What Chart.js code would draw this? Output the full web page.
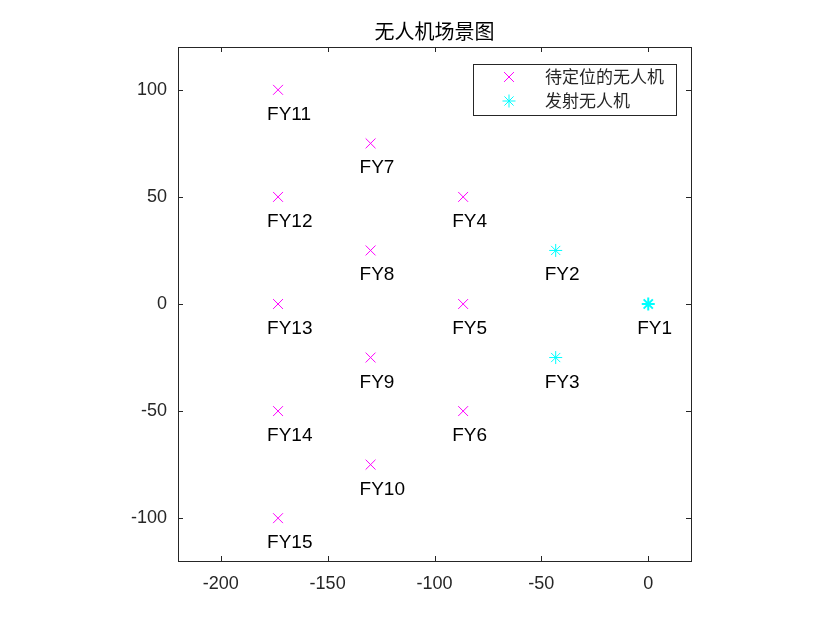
<!DOCTYPE html>
<html>
<head>
<meta charset="utf-8">
<script src="https://cdn.jsdelivr.net/npm/chart.js@4"></script>
<style>
  html, body { margin: 0; padding: 0; background: #fff; }
  #wrap { width: 840px; height: 630px; }
</style>
</head>
<body>
<div id="wrap"><canvas id="scene" width="840" height="630"></canvas></div>
<script>
// 无人机编号与坐标
const names = ['FY1', 'FY2', 'FY3', 'FY4', 'FY5', 'FY6', 'FY7', 'FY8', 'FY9', 'FY10', 'FY11', 'FY12', 'FY13', 'FY14', 'FY15'];
const posX = [0, -43.3, -43.3, -86.6, -86.6, -86.6, -129.9, -129.9, -129.9, -129.9, -173.2, -173.2, -173.2, -173.2, -173.2];
const posY = [0, 25, -25, 50, 0, -50, 75, 25, -25, -75, 100, 50, 0, -50, -100];
const senderCount = 3; // 前三架为发射无人机

const xTicks = [-200, -150, -100, -50, 0];
const yTicks = [-100, -50, 0, 50, 100];
const xRange = [-220, 20];
const yRange = [-120, 120];

const titleText = '无人机场景图';
const legendLabels = ['待定位的无人机', '发射无人机'];

const latin = "'Liberation Sans', Arial, sans-serif";
const cjk = "'Noto Sans CJK SC', sans-serif";

const pts = names.map((n, i) => ({ x: posX[i], y: posY[i] }));

// 标注、边框、刻度、标题、图例
const decor = {
    id: 'decor',
    afterDatasetsDraw(chart) {
        const ctx = chart.ctx;
        const a = chart.chartArea;
        const sx = chart.scales.x, sy = chart.scales.y;

        // 点的标签
        ctx.save();
        ctx.fillStyle = '#000';
        ctx.font = '19px ' + latin;
        ctx.textAlign = 'left';
        ctx.textBaseline = 'alphabetic';
        names.forEach((n, i) => {
            ctx.fillText(n, sx.getPixelForValue(posX[i]) - 11, sy.getPixelForValue(posY[i]) + 30);
        });
        ctx.restore();

        // 边框和向内刻度
        ctx.save();
        ctx.strokeStyle = '#262626';
        ctx.lineWidth = 1;
        ctx.strokeRect(Math.round(a.left) + 0.5, Math.round(a.top) + 0.5, Math.round(a.right - a.left), Math.round(a.bottom - a.top));
        ctx.beginPath();
        xTicks.forEach(v => {
            const px = Math.round(sx.getPixelForValue(v)) + 0.5;
            ctx.moveTo(px, a.bottom); ctx.lineTo(px, a.bottom - 5);
            ctx.moveTo(px, a.top); ctx.lineTo(px, a.top + 5);
        });
        yTicks.forEach(v => {
            const py = Math.round(sy.getPixelForValue(v)) + 0.5;
            ctx.moveTo(a.left, py); ctx.lineTo(a.left + 5, py);
            ctx.moveTo(a.right, py); ctx.lineTo(a.right - 5, py);
        });
        ctx.stroke();
        ctx.restore();

        // 标题
        ctx.save();
        ctx.fillStyle = '#000';
        ctx.font = '20px ' + cjk;
        ctx.textAlign = 'center';
        ctx.textBaseline = 'middle';
        ctx.fillText(titleText, (a.left + a.right) / 2, 31);
        ctx.restore();

        // 图例
        ctx.save();
        ctx.fillStyle = '#fff';
        ctx.fillRect(473.5, 64.5, 203, 51);
        ctx.strokeStyle = '#262626';
        ctx.lineWidth = 1;
        ctx.strokeRect(473.5, 64.5, 203, 51);
        const rows = [77, 101];
        const styles = [
            { style: 'crossRot', color: '#ff00ff', r: 7 },
            { style: 'star', color: '#00ffff', r: 6.5 }
        ];
        rows.forEach((ry, i) => {
            ctx.strokeStyle = styles[i].color;
            ctx.fillStyle = styles[i].color;
            ctx.lineWidth = 1;
            Chart.helpers.drawPoint(ctx, { pointStyle: styles[i].style, radius: styles[i].r, borderWidth: 1 }, 509, ry);
            ctx.fillStyle = '#262626';
            ctx.font = '17px ' + cjk;
            ctx.textAlign = 'left';
            ctx.textBaseline = 'middle';
            ctx.fillText(legendLabels[i], 545, ry);
        });
        ctx.restore();
    }
};

const chart = new Chart(document.getElementById('scene').getContext('2d'), {
    type: 'scatter',
    data: {
        datasets: [
            {
                label: legendLabels[0],
                data: pts.slice(senderCount),
                pointStyle: 'crossRot',
                pointRadius: 7,
                pointBorderWidth: 1,
                borderColor: '#ff00ff',
                backgroundColor: '#ff00ff'
            },
            {
                label: legendLabels[1],
                data: pts.slice(0, senderCount),
                pointStyle: 'star',
                pointRadius: 6.5,
                pointBorderWidth: [2, 1, 1],
                borderColor: '#00ffff',
                backgroundColor: '#00ffff'
            }
        ]
    },
    options: {
        responsive: false,
        animation: false,
        events: [],
        layout: { padding: { left: 0, right: 149, top: 47, bottom: 0 } },
        plugins: {
            legend: { display: false },
            title: { display: false },
            tooltip: { enabled: false }
        },
        scales: {
            x: {
                type: 'linear',
                min: xRange[0],
                max: xRange[1],
                afterBuildTicks: s => { s.ticks = xTicks.map(v => ({ value: v })); },
                afterFit: s => { s.height = 69; },
                grid: { display: false, drawTicks: false },
                border: { display: false },
                ticks: {
                    padding: 12,
                    color: '#262626',
                    font: { family: latin, size: 18 },
                    maxRotation: 0
                }
            },
            y: {
                type: 'linear',
                min: yRange[0],
                max: yRange[1],
                afterBuildTicks: s => { s.ticks = yTicks.map(v => ({ value: v })); },
                afterFit: s => { s.width = 178; },
                grid: { display: false, drawTicks: false },
                border: { display: false },
                ticks: {
                    padding: 11,
                    color: '#262626',
                    font: { family: latin, size: 18 }
                }
            }
        }
    },
    plugins: [decor]
});
</script>
</body>
</html>
